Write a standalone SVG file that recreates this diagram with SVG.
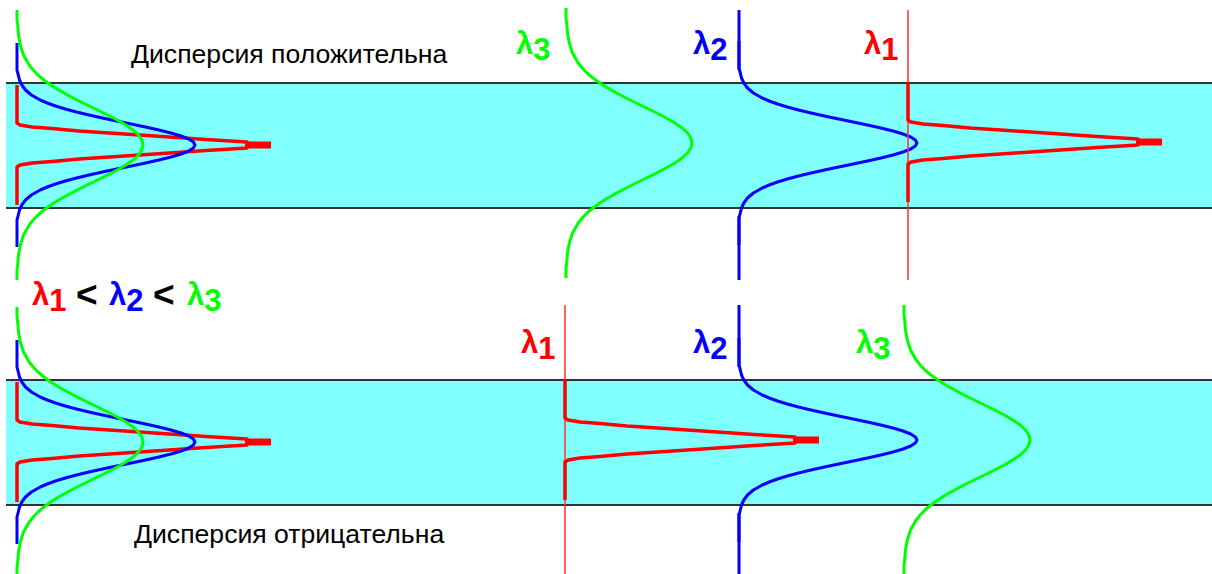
<svg xmlns="http://www.w3.org/2000/svg" xmlns:xlink="http://www.w3.org/1999/xlink" width="1212" height="574" viewBox="0 0 1212 574">
<style>
.band{fill:#80ffff}
.edge{stroke:#333;stroke-width:2;fill:none}
.c{fill:none;stroke-width:3;stroke-linejoin:round}
.g{stroke:#00ff00}
.b{stroke:#0000ff}
.r{stroke:#ff0000;stroke-width:3.5}
.thin{fill:none;stroke:#ff3030;stroke-width:1.5}
.cap{font-family:"Liberation Sans",Arial,sans-serif;font-size:26.6px;fill:#000}
.lam{font-family:"Liberation Sans",Arial,sans-serif;font-size:31px;font-weight:bold}
.lt{font-size:37px}
</style>
<defs>
<path id="gc" class="c g" d="M0,-135 L0,-125 L0.7,-120 L1.5,-110 L3.3,-100 L6.5,-90 L12.2,-80 L16.2,-75 L21,-70 L26.9,-65 L33.8,-60 L41.7,-55 L50.6,-50 L60.1,-45 L70.2,-40 L80.6,-35 L90.7,-30 L100.3,-25 L108.9,-20 L116.1,-15 L121.5,-10 L124.9,-5 L126,0 L124.9,5 L121.5,10 L116.1,15 L108.9,20 L100.3,25 L90.7,30 L80.6,35 L70.2,40 L60.1,45 L50.6,50 L41.7,55 L33.8,60 L26.9,65 L21,70 L16.2,75 L12.2,80 L6.5,90 L3.3,100 L1.5,110 L0.7,120 L0,125 L0,135"/>
<path id="bc" class="c b" d="M0,-102 L0,-75 L1.3,-70 L2.5,-65 L4.8,-60 L8.5,-55 L14.4,-50 L23.2,-45 L30.2,-42 L38.5,-39 L48.3,-36 L59.5,-33 L72,-30 L85.5,-27 L99.7,-24 L114.2,-21 L128.5,-18 L141.9,-15 L154,-12 L164.1,-9 L171.7,-6 L176.4,-3 L178,0 L176.4,3 L171.7,6 L164.1,9 L154,12 L141.9,15 L128.5,18 L114.2,21 L99.7,24 L85.5,27 L72,30 L59.5,33 L48.3,36 L38.5,39 L30.2,42 L23.2,45 L14.4,50 L8.5,55 L4.8,60 L2.5,65 L1.3,70 L0,75 L0,102"/>
<g id="rc">
<path class="c r" d="M0,-60 L0,-22 L3,-20 L15,-18 L35,-16.5 L62,-14 L100,-11.5 L145,-8.5 L189,-5.5 L230,-3 L230,3 L189,5.5 L145,8.5 L100,11.5 L62,14 L35,16.5 L15,18 L3,20 L0,22 L0,60"/>
<rect x="228" y="-3.5" width="26" height="7" fill="#ff0000"/>
</g>
</defs>

<g id="bands">
<rect class="band" x="6" y="83" width="1206" height="125"/>
<rect class="band" x="6" y="380" width="1206" height="125"/>
<path class="edge" d="M6,83 H1212 M6,208 H1212 M6,380 H1212 M6,505 H1212"/>
</g>

<g id="top-left">
<use xlink:href="#rc" transform="translate(17,145)"/>
<use xlink:href="#bc" transform="translate(17,145)"/>
<use xlink:href="#gc" transform="translate(17,145)"/>
</g>

<g id="top-right">
<use xlink:href="#gc" transform="translate(566,143)"/>
<path class="c b" d="M739,10 V70 M739,216 V280"/>
<use xlink:href="#bc" transform="translate(739,143)"/>
<path class="thin" d="M908,10 V280"/>
<use xlink:href="#rc" transform="translate(908,142)"/>
</g>

<g id="bottom-left">
<use xlink:href="#rc" transform="translate(17,442)"/>
<use xlink:href="#bc" transform="translate(17,442)"/>
<use xlink:href="#gc" transform="translate(17,442)"/>
</g>

<g id="bottom-right">
<path class="thin" d="M565,305 V574"/>
<use xlink:href="#rc" transform="translate(565,440)"/>
<path class="c b" d="M739,305 V367 M739,513 V574"/>
<use xlink:href="#bc" transform="translate(739,440)"/>
<use xlink:href="#gc" transform="translate(904,440)"/>
</g>

<g id="labels">
<text class="cap" x="131" y="63">Дисперсия положительна</text>
<text class="cap" x="134" y="543">Дисперсия отрицательна</text>

<text class="lam" x="516" y="54" fill="#00ff00">λ<tspan dy="6">3</tspan></text>
<text class="lam" x="693" y="54" fill="#0000ff">λ<tspan dy="6">2</tspan></text>
<text class="lam" x="864" y="54" fill="#ff0000">λ<tspan dy="6">1</tspan></text>

<text class="lam" x="521" y="353" fill="#ff0000">λ<tspan dy="6">1</tspan></text>
<text class="lam" x="693" y="353" fill="#0000ff">λ<tspan dy="6">2</tspan></text>
<text class="lam" x="856" y="353" fill="#00ff00">λ<tspan dy="6">3</tspan></text>

<text class="lam" y="305"><tspan x="32" fill="#ff0000">λ</tspan><tspan dy="6" fill="#ff0000">1</tspan><tspan class="lt" x="76" dy="-4" fill="#000">&lt;</tspan><tspan x="109" dy="-2" fill="#0000ff">λ</tspan><tspan dy="6" fill="#0000ff">2</tspan><tspan class="lt" x="153" dy="-4" fill="#000">&lt;</tspan><tspan x="187" dy="-2" fill="#00ff00">λ</tspan><tspan dy="6" fill="#00ff00">3</tspan></text>
</g>
</svg>
